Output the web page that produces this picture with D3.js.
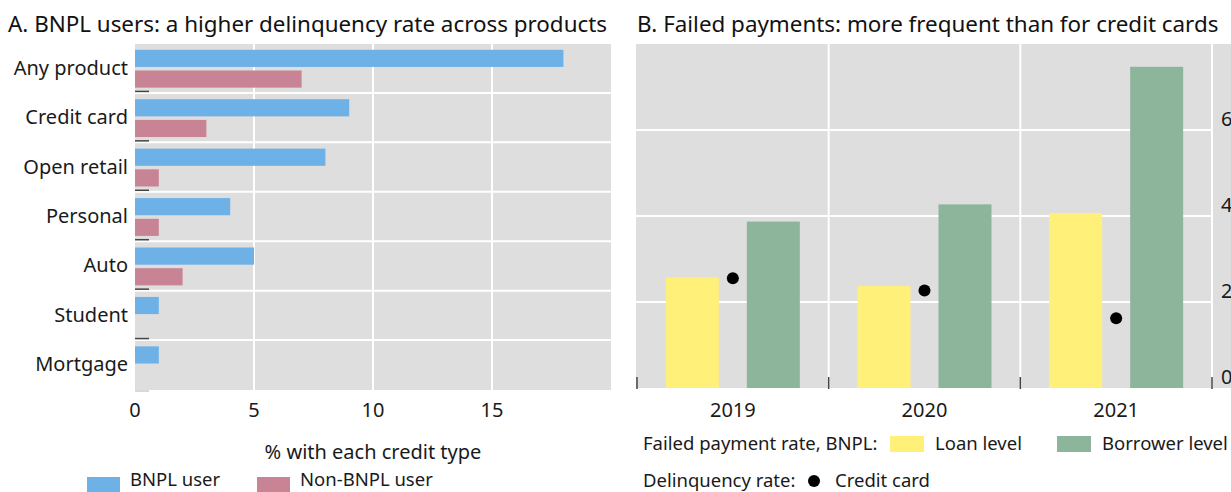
<!DOCTYPE html>
<html lang="en">
<head>
<meta charset="UTF-8">
<title>BNPL</title>
<script src="https://cdn.jsdelivr.net/npm/d3@7"></script>
<style>
body { margin: 0; background: #fff; }
svg { display: block; font-family: "Noto Sans", sans-serif; }
.lbl { font-size: 18.5px; fill: #1a1a1a; }
.big { font-size: 20px; }
.title { font-size: 22.4px; fill: #111; }
</style>
</head>
<body>
<svg width="1231" height="492"></svg>
<script>
// panel A data
var products = ["Any product", "Credit card", "Open retail", "Personal", "Auto", "Student", "Mortgage"];
var bnplUser = [18, 9, 8, 4, 5, 1, 1];
var nonBnplUser = [7, 3, 1, 1, 2, null, null];
var ticksA = [0, 5, 10, 15];

// panel B data
var years = ["2019", "2020", "2021"];
var loanLevel = [2.57, 2.37, 4.07];
var borrowerLevel = [3.87, 4.27, 7.47];
var creditCard = [2.55, 2.27, 1.62];
var ticksB = [0, 2, 4, 6];

var bg = "#dedede", blue = "#6db1e7", pink = "#c88494", yellow = "#fff07a", green = "#8cb59b";

var svg = d3.select("svg");

// ---------- Panel A ----------
var gA = svg.append("g");
var xA = d3.scaleLinear().domain([0, 20]).range([135, 611]);
var yA = d3.scaleBand().domain(products).range([44, 390]);
var inner = d3.scaleBand().domain(["bnpl", "non"]).range([0, yA.bandwidth()])
	.paddingInner(0.17).paddingOuter(0.28);

gA.append("text").attr("class", "title").attr("x", 8).attr("y", 32)
	.text("A. BNPL users: a higher delinquency rate across products");

gA.append("rect").attr("x", xA(0)).attr("y", 44)
	.attr("width", xA(20) - xA(0)).attr("height", 346).attr("fill", bg);

// vertical grid
gA.selectAll(".vg").data(ticksA.slice(1)).enter().append("line")
	.attr("x1", function(d) { return xA(d); }).attr("x2", function(d) { return xA(d); })
	.attr("y1", 44).attr("y2", 390).attr("stroke", "#fff").attr("stroke-width", 2);

// horizontal grid between categories
gA.selectAll(".hg").data(products.slice(1)).enter().append("line")
	.attr("x1", xA(0)).attr("x2", xA(20))
	.attr("y1", function(d) { return yA(d) - 0.5; }).attr("y2", function(d) { return yA(d) - 0.5; })
	.attr("stroke", "#fff").attr("stroke-width", 2);

// little tick stubs
gA.selectAll(".stub").data(products.slice(1)).enter().append("line")
	.attr("x1", xA(0)).attr("x2", xA(0) + 14)
	.attr("y1", function(d) { return yA(d) - 2; }).attr("y2", function(d) { return yA(d) - 2; })
	.attr("stroke", "#444").attr("stroke-width", 1.5);
gA.append("line").attr("x1", xA(0)).attr("x2", xA(0) + 14).attr("y1", 391).attr("y2", 391)
	.attr("stroke", "#ccc").attr("stroke-width", 1.5);

gA.selectAll(".b1").data(products).enter().append("rect")
	.attr("x", xA(0))
	.attr("y", function(d) { return yA(d) + inner("bnpl"); })
	.attr("width", function(d, i) { return xA(bnplUser[i]) - xA(0); })
	.attr("height", inner.bandwidth())
	.attr("fill", blue);

gA.selectAll(".b2").data(products.filter(function(d, i) { return nonBnplUser[i] != null; }))
	.enter().append("rect")
	.attr("x", xA(0))
	.attr("y", function(d) { return yA(d) + inner("non"); })
	.attr("width", function(d) { return xA(nonBnplUser[products.indexOf(d)]) - xA(0); })
	.attr("height", inner.bandwidth())
	.attr("fill", pink);

gA.selectAll(".cat").data(products).enter().append("text")
	.attr("class", "lbl big").attr("x", 128)
	.attr("y", function(d) { return yA(d) + yA.bandwidth() / 2 - 1; })
	.attr("dy", "0.35em").attr("text-anchor", "end")
	.text(function(d) { return d; });

gA.selectAll(".xt").data(ticksA).enter().append("text")
	.attr("class", "lbl big").attr("x", function(d) { return xA(d); }).attr("y", 417)
	.attr("text-anchor", "middle").text(function(d) { return d; });

gA.append("text").attr("class", "lbl big").attr("x", 373).attr("y", 459)
	.attr("text-anchor", "middle").text("% with each credit type");

var legA = [["BNPL user", blue, 87], ["Non-BNPL user", pink, 257]];
legA.forEach(function(l) {
	gA.append("rect").attr("x", l[2]).attr("y", 477).attr("width", 33).attr("height", 16).attr("fill", l[1]);
	gA.append("text").attr("class", "lbl").attr("x", l[2] + 43).attr("y", 486).text(l[0]);
});

// ---------- Panel B ----------
var gB = svg.append("g");
var xB = d3.scaleBand().domain(years).range([637, 1212]);
var yB = d3.scaleLinear().domain([0, 8]).range([388, 44]);

gB.append("text").attr("class", "title").attr("x", 637).attr("y", 32)
	.text("B. Failed payments: more frequent than for credit cards");

gB.append("rect").attr("x", 636).attr("y", 44).attr("width", 600).attr("height", 344).attr("fill", bg);

gB.selectAll(".hg").data(ticksB.slice(1)).enter().append("line")
	.attr("x1", 636).attr("x2", 1212)
	.attr("y1", function(d) { return yB(d); }).attr("y2", function(d) { return yB(d); })
	.attr("stroke", "#fff").attr("stroke-width", 2);

gB.selectAll(".vg").data(years).enter().append("line")
	.attr("x1", function(d) { return xB(d) + xB.bandwidth(); })
	.attr("x2", function(d) { return xB(d) + xB.bandwidth(); })
	.attr("y1", 44).attr("y2", 388).attr("stroke", "#fff").attr("stroke-width", 2);

var bw = 53, off = 14;
gB.selectAll(".loan").data(years).enter().append("rect")
	.attr("x", function(d) { return xB(d) + xB.bandwidth() / 2 - off - bw; })
	.attr("y", function(d, i) { return yB(loanLevel[i]); })
	.attr("width", bw)
	.attr("height", function(d, i) { return yB(0) - yB(loanLevel[i]); })
	.attr("fill", yellow);

gB.selectAll(".borr").data(years).enter().append("rect")
	.attr("x", function(d) { return xB(d) + xB.bandwidth() / 2 + off; })
	.attr("y", function(d, i) { return yB(borrowerLevel[i]); })
	.attr("width", bw)
	.attr("height", function(d, i) { return yB(0) - yB(borrowerLevel[i]); })
	.attr("fill", green);

gB.selectAll(".dot").data(years).enter().append("circle")
	.attr("cx", function(d) { return xB(d) + xB.bandwidth() / 2; })
	.attr("cy", function(d, i) { return yB(creditCard[i]); })
	.attr("r", 6).attr("fill", "#000");

// bottom ticks at band edges
var edges = years.map(function(d) { return xB(d); }).concat([xB.range()[1]]);
gB.selectAll(".bt").data(edges).enter().append("line")
	.attr("x1", function(d) { return d; }).attr("x2", function(d) { return d; })
	.attr("y1", 377).attr("y2", 389).attr("stroke", "#444").attr("stroke-width", 1.5);

gB.selectAll(".yt").data(ticksB).enter().append("text")
	.attr("class", "lbl big").attr("x", 1221)
	.attr("y", function(d) { return yB(d) - 11; }).attr("dy", "0.35em")
	.text(function(d) { return d; });

gB.selectAll(".xt").data(years).enter().append("text")
	.attr("class", "lbl big").attr("x", function(d) { return xB(d) + xB.bandwidth() / 2; })
	.attr("y", 417).attr("text-anchor", "middle").text(function(d) { return d; });

gB.append("text").attr("class", "lbl").attr("x", 643).attr("y", 450).text("Failed payment rate, BNPL:");
var legB = [["Loan level", yellow, 890], ["Borrower level", green, 1057]];
legB.forEach(function(l) {
	gB.append("rect").attr("x", l[2]).attr("y", 436).attr("width", 34).attr("height", 16).attr("fill", l[1]);
	gB.append("text").attr("class", "lbl").attr("x", l[2] + 45).attr("y", 450).text(l[0]);
});
gB.append("text").attr("class", "lbl").attr("x", 643).attr("y", 487).text("Delinquency rate:");
gB.append("circle").attr("cx", 814).attr("cy", 481).attr("r", 6).attr("fill", "#000");
gB.append("text").attr("class", "lbl").attr("x", 835).attr("y", 487).text("Credit card");
</script>
</body>
</html>
